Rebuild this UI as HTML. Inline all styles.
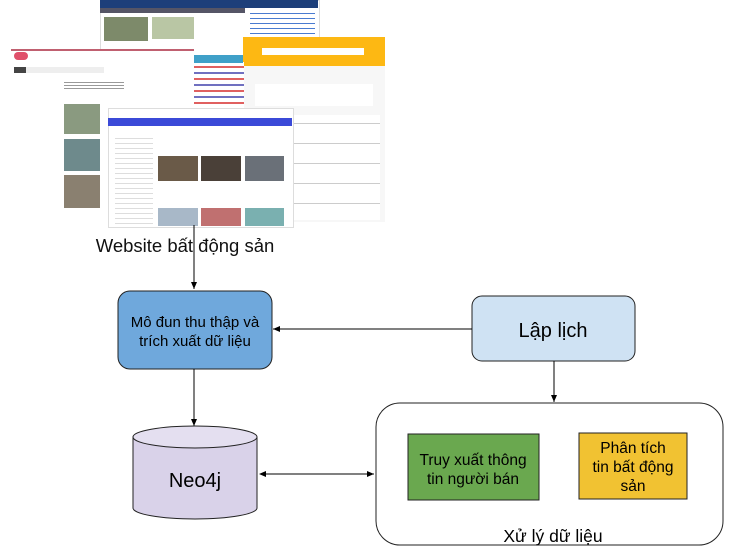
<!DOCTYPE html>
<html><head><meta charset="utf-8"><style>
body{margin:0;width:738px;height:557px;background:#fff;position:relative;overflow:hidden;font-family:"Liberation Sans",Arial,sans-serif}
.a{position:absolute}
</style></head><body>
<!-- back screenshot -->
<div class="a" style="left:100px;top:0;width:218px;height:55px;background:#fff;border:1px solid #ddd"></div>
<div class="a" style="left:100px;top:0;width:218px;height:8px;background:#1d3f7a"></div>
<div class="a" style="left:100px;top:8px;width:145px;height:5px;background:#556"></div>
<div class="a" style="left:104px;top:17px;width:44px;height:24px;background:#7d8a6a"></div>
<div class="a" style="left:152px;top:17px;width:42px;height:22px;background:#b9c6a4"></div>
<div class="a" style="left:250px;top:10px;width:65px;height:30px;background:repeating-linear-gradient(#fff 0 3px,#4a7bd0 3px 4px,#fff 4px 5px)"></div>
<!-- right screenshot -->
<div class="a" style="left:243px;top:37px;width:142px;height:185px;background:#f7f7f7"></div>
<div class="a" style="left:243px;top:37px;width:142px;height:29px;background:#fdb813"></div>
<div class="a" style="left:262px;top:48px;width:102px;height:7px;background:#fff"></div>
<div class="a" style="left:255px;top:84px;width:118px;height:22px;background:#fff"></div>
<div class="a" style="left:292px;top:115px;width:88px;height:105px;background:repeating-linear-gradient(#fff 0 8px,#ccc 8px 9px,#fff 9px 20px)"></div>
<!-- left screenshot -->
<div class="a" style="left:11px;top:49px;width:183px;height:163px;background:#fff;border-top:2px solid #c06070"></div>
<div class="a" style="left:14px;top:52px;width:14px;height:8px;background:#e0506a;border-radius:4px"></div>
<div class="a" style="left:14px;top:67px;width:90px;height:6px;background:#eee"></div>
<div class="a" style="left:14px;top:67px;width:12px;height:6px;background:#444"></div>
<div class="a" style="left:64px;top:80px;width:60px;height:10px;background:repeating-linear-gradient(#fff 0 2px,#999 2px 3px)"></div>
<div class="a" style="left:64px;top:104px;width:36px;height:30px;background:#8a9a80"></div>
<div class="a" style="left:64px;top:139px;width:36px;height:32px;background:#6e8a8c"></div>
<div class="a" style="left:64px;top:175px;width:36px;height:33px;background:#8a8070"></div>
<!-- ads strip -->
<div class="a" style="left:194px;top:62px;width:50px;height:46px;background:repeating-linear-gradient(#fff 0 4px,#e06060 4px 6px,#fff 6px 10px,#7070c0 10px 12px)"></div>
<div class="a" style="left:194px;top:55px;width:49px;height:8px;background:#3fa0c8"></div>
<!-- middle screenshot -->
<div class="a" style="left:108px;top:108px;width:184px;height:118px;background:#fff;border:1px solid #ddd"></div>
<div class="a" style="left:108px;top:118px;width:184px;height:8px;background:#3b4ad8"></div>
<div class="a" style="left:115px;top:134px;width:38px;height:90px;background:repeating-linear-gradient(#fff 0 4px,#ddd 4px 5px)"></div>
<div class="a" style="left:158px;top:156px;width:40px;height:25px;background:#6a5a48"></div>
<div class="a" style="left:201px;top:156px;width:40px;height:25px;background:#4a4038"></div>
<div class="a" style="left:245px;top:156px;width:39px;height:25px;background:#6a7078"></div>
<div class="a" style="left:158px;top:208px;width:40px;height:18px;background:#a8b8c8"></div>
<div class="a" style="left:201px;top:208px;width:40px;height:18px;background:#c07070"></div>
<div class="a" style="left:245px;top:208px;width:39px;height:18px;background:#7ab0b0"></div>

<svg class="a" style="left:0;top:0" width="738" height="557">
<defs><marker id="ar" markerWidth="8" markerHeight="8" refX="7" refY="4" orient="auto" markerUnits="userSpaceOnUse"><path d="M0,1 L7,4 L0,7 Z" fill="#000"/></marker></defs>
<text x="185" y="252" font-size="18.5" text-anchor="middle" fill="#111" font-family="Liberation Sans">Website bất động sản</text>
<line x1="194" y1="225" x2="194" y2="289" stroke="#000" marker-end="url(#ar)"/>
<rect x="118" y="291" width="154" height="78" rx="12" fill="#6fa8dc" stroke="#222"/>
<text x="195" y="327" font-size="15" text-anchor="middle" font-family="Liberation Sans">Mô đun thu thập và</text>
<text x="195" y="346" font-size="15" text-anchor="middle" font-family="Liberation Sans">trích xuất dữ liệu</text>
<rect x="472" y="296" width="163" height="65" rx="10" fill="#cfe2f3" stroke="#222"/>
<text x="553" y="337" font-size="20" text-anchor="middle" font-family="Liberation Sans">Lập lịch</text>
<line x1="472" y1="329" x2="273" y2="329" stroke="#000" marker-end="url(#ar)"/>
<line x1="194" y1="369" x2="194" y2="426" stroke="#000" marker-end="url(#ar)"/>
<path d="M133,437 L133,508 A62,11 0 0 0 257,508 L257,437" fill="#d9d2e9" stroke="#222"/>
<ellipse cx="195" cy="437" rx="62" ry="11" fill="#e4dff0" stroke="#222"/>
<text x="195" y="487" font-size="20" text-anchor="middle" font-family="Liberation Sans">Neo4j</text>
<line x1="262" y1="474" x2="374" y2="474" stroke="#000" marker-end="url(#ar)"/>
<path d="M259,474 L266,471 L266,477 Z" fill="#000"/>
<rect x="376" y="403" width="347" height="142" rx="24" fill="#fff" stroke="#222"/>
<line x1="554" y1="361" x2="554" y2="402" stroke="#000" marker-end="url(#ar)"/>
<rect x="408" y="434" width="131" height="66" fill="#6aa84f" stroke="#222"/>
<text x="473" y="465" font-size="15.5" text-anchor="middle" font-family="Liberation Sans">Truy xuất thông</text>
<text x="473" y="484" font-size="15.5" text-anchor="middle" font-family="Liberation Sans">tin người bán</text>
<rect x="579" y="433" width="108" height="66" fill="#f1c232" stroke="#222"/>
<text x="633" y="453" font-size="15.5" text-anchor="middle" font-family="Liberation Sans">Phân tích</text>
<text x="633" y="472" font-size="15.5" text-anchor="middle" font-family="Liberation Sans">tin bất động</text>
<text x="633" y="491" font-size="15.5" text-anchor="middle" font-family="Liberation Sans">sản</text>
<text x="553" y="542" font-size="17.5" text-anchor="middle" font-family="Liberation Sans">Xử lý dữ liệu</text>
</svg>
</body></html>
